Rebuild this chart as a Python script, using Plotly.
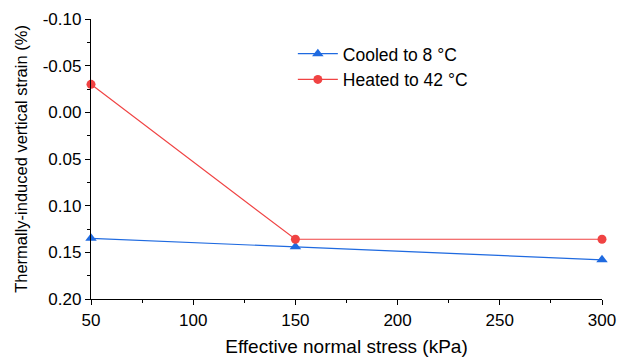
import plotly.graph_objects as go

stress = [50, 150, 300]
cooled = [0.135, 0.144, 0.158]
heated = [-0.030, 0.136, 0.136]
y_ticks = [-0.10, -0.05, 0.00, 0.05, 0.10, 0.15, 0.20]
y_ticktext = ["-0.10", "-0.05", "0.00", "0.05", "0.10", "0.15", "0.20"]
x_ticks = [50, 100, 150, 200, 250, 300]

BLUE = "#1f6ae0"
RED = "#f04343"
FONT = "Liberation Sans, Arial, sans-serif"

fig = go.Figure()
fig.add_trace(go.Scatter(x=stress, y=cooled, mode="lines+markers", name="Cooled to 8 °C",
                         line=dict(color=BLUE, width=1.2),
                         marker=dict(symbol="triangle-up", size=10, color=BLUE),
                         cliponaxis=False))
fig.add_trace(go.Scatter(x=stress, y=heated, mode="lines+markers", name="Heated to 42 °C",
                         line=dict(color=RED, width=1.2),
                         marker=dict(symbol="circle", size=9, color=RED),
                         cliponaxis=False))

axis_common = dict(showgrid=False, zeroline=False, showline=True, linecolor="black", linewidth=1.3,
                   tickcolor="black", tickwidth=1.2, automargin=False)

fig.update_layout(
    width=627, height=358,
    margin=dict(l=91, r=25, t=19, b=59),
    paper_bgcolor="white", plot_bgcolor="white",
    font=dict(family=FONT, size=17, color="black"),
    showlegend=True,
    legend=dict(x=0.395, y=0.94, xanchor="left", yanchor="top", bgcolor="rgba(0,0,0,0)",
                font=dict(size=17.5), itemwidth=40, tracegroupgap=0),
    xaxis=dict(range=[50, 300], tickvals=x_ticks, ticks="outside", ticklen=5, ticklabelstandoff=0,
               minor=dict(ticks="outside", ticklen=3, dtick=25, tick0=50, tickcolor="black", tickwidth=1),
               title=dict(text="Effective normal stress (kPa)", standoff=11, font=dict(size=19)),
               tickfont=dict(size=17), **axis_common),
    yaxis=dict(range=[0.20, -0.10], tickvals=y_ticks, ticktext=y_ticktext, ticks="outside", ticklen=5,
               minor=dict(ticks="outside", ticklen=3, dtick=0.025, tick0=0, tickcolor="black", tickwidth=1),
               title=dict(text="Thermally-induced vertical strain (%)", standoff=10, font=dict(size=16.5)),
               tickfont=dict(size=17), **axis_common),
    xaxis2=dict(range=[50, 300], overlaying="x", side="top", tickvals=x_ticks, ticks="inside", ticklen=5,
                minor=dict(ticks="inside", ticklen=3, dtick=25, tick0=50, tickcolor="black", tickwidth=1),
                showticklabels=False, anchor="y", **axis_common),
    yaxis2=dict(range=[0.20, -0.10], overlaying="y", side="right", tickvals=y_ticks, ticks="inside", ticklen=5,
                minor=dict(ticks="inside", ticklen=3, dtick=0.025, tick0=0, tickcolor="black", tickwidth=1),
                showticklabels=False, anchor="x", **axis_common),
)

fig.write_html("out.html")
